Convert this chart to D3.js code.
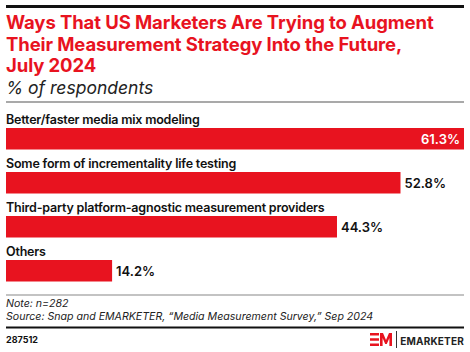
<!DOCTYPE html>
<html>
<head>
<meta charset="utf-8">
<script src="https://cdn.jsdelivr.net/npm/d3@7"></script>
<style>
  body { margin: 0; background: #fff; }
  text { font-family: Inter, "Noto Sans", sans-serif; }
</style>
</head>
<body>
<svg id="chart" width="470" height="352"></svg>
<script>
const categories = [
    "Better/faster media mix modeling",
    "Some form of incrementality life testing",
    "Third-party platform-agnostic measurement providers",
    "Others"
];
const values = [61.3, 52.8, 44.3, 14.2];

const titleLines = [
    "Ways That US Marketers Are Trying to Augment",
    "Their Measurement Strategy Into the Future,",
    "July 2024"
];
const subtitle = "% of respondents";
const noteLines = [
    "Note: n=282",
    "Source: Snap and EMARKETER, \u201cMedia Measurement Survey,\u201d Sep 2024"
];
const chartId = "287512";

const red = "#e8131f";
const svg = d3.select("#chart");
const left = 6, right = 464;

// top rule
svg.append("rect").attr("x", left).attr("y", 5).attr("width", right - left).attr("height", 3).attr("fill", "#111");

// title
svg.selectAll(".title")
    .data(titleLines)
    .join("text")
    .attr("class", "title")
    .attr("x", left)
    .attr("y", (d, i) => 29 + i * 21.5)
    .attr("fill", red)
    .attr("font-size", 18.5)
    .attr("font-weight", 700)
    .attr("letter-spacing", -0.1)
    .text(d => d);

svg.append("text")
    .attr("x", left)
    .attr("y", 94)
    .attr("font-size", 17.5)
    .attr("font-style", "italic")
    .attr("fill", "#222")
    .text(subtitle);

svg.append("rect").attr("x", left).attr("y", 101.5).attr("width", right - left).attr("height", 1).attr("fill", "#555");

// bars
const x = d3.scaleLinear().domain([0, d3.max(values)]).range([left, right]);
const y = d3.scaleBand().domain(categories).range([108, 284]).paddingInner(0).paddingOuter(0);

const data = categories.map((c, i) => ({ c, v: values[i] }));

const g = svg.append("g");
const row = g.selectAll("g.row")
    .data(data)
    .join("g")
    .attr("class", "row")
    .attr("transform", d => `translate(0,${y(d.c)})`);

row.append("text")
    .attr("x", left)
    .attr("y", 16)
    .attr("font-size", 12.5)
    .attr("font-weight", 600)
    .attr("letter-spacing", -0.2)
    .attr("fill", "#111")
    .text(d => d.c);

row.append("rect")
    .attr("x", x(0))
    .attr("y", 20)
    .attr("width", d => x(d.v) - x(0))
    .attr("height", 21.5)
    .attr("fill", red);

row.append("text")
    .attr("x", (d, i) => i === 0 ? x(d.v) - 4 : x(d.v) + 4)
    .attr("y", 35.5)
    .attr("text-anchor", (d, i) => i === 0 ? "end" : "start")
    .attr("font-size", 13)
    .attr("font-weight", 600)
    .attr("fill", (d, i) => i === 0 ? "#fff" : "#111")
    .text(d => d.v.toFixed(1) + "%");

// notes
svg.append("rect").attr("x", left).attr("y", 294.5).attr("width", right - left).attr("height", 1).attr("fill", "#888");
svg.selectAll(".note")
    .data(noteLines)
    .join("text")
    .attr("class", "note")
    .attr("x", left)
    .attr("y", (d, i) => 307 + i * 13)
    .attr("font-size", 10.6)
    .attr("font-style", "italic")
    .attr("fill", "#222")
    .text(d => d);

svg.append("rect").attr("x", left).attr("y", 326.5).attr("width", right - left).attr("height", 2).attr("fill", "#111");

svg.append("text")
    .attr("x", left)
    .attr("y", 343)
    .attr("font-size", 9)
    .attr("font-weight", 700)
    .attr("fill", "#111")
    .text(chartId);

// logo
const logo = svg.append("g").attr("transform", "translate(370,333)");
logo.append("path")
    .attr("fill", red)
    .attr("d", "M0,0H9V2.6H0Z M0,5.2H9V7.8H0Z M0,10.4H9V13H0Z M10,13V0H13L16,7L19,0H22V13H19.4V5L16.8,11H15.2L12.6,5V13Z");
logo.append("rect").attr("x", 26).attr("y", -2).attr("width", 1).attr("height", 17).attr("fill", "#333");
svg.append("text")
    .attr("x", 464)
    .attr("y", 345)
    .attr("text-anchor", "end")
    .attr("font-size", 10)
    .attr("font-weight", 700)
    .attr("letter-spacing", 0.2)
    .attr("fill", "#222")
    .text("EMARKETER");
</script>
</body>
</html>
